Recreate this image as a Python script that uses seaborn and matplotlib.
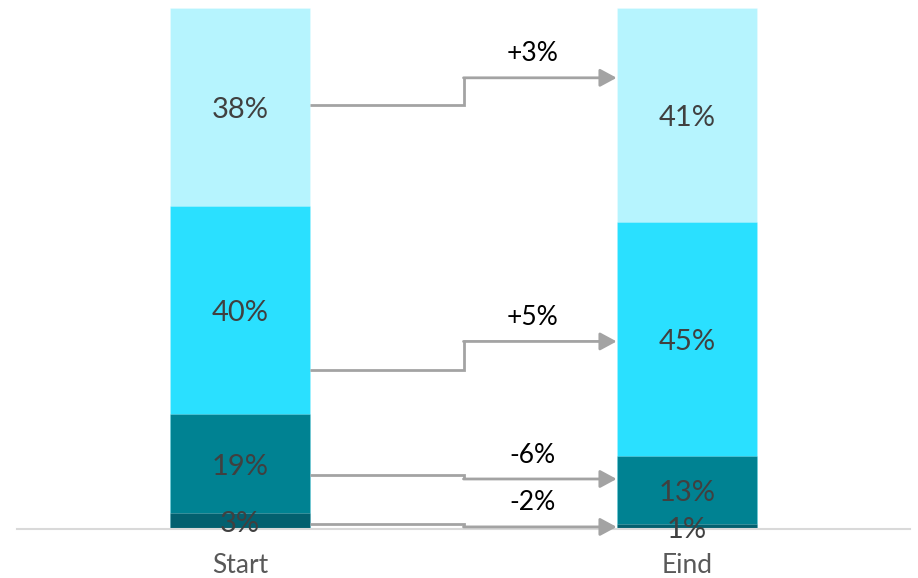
import numpy as np
import pandas as pd
import seaborn as sns
import matplotlib.pyplot as plt

# data
categories = ["Start", "Eind"]
seg_bottom = [3, 1]       # darkest
seg_low = [19, 13]
seg_mid = [40, 45]
seg_top = [38, 41]        # lightest
seg_colors = ["#03606f", "#008292", "#2ae0ff", "#b6f4fe"]

# change arrows: level (%) at the Start bar and at the Eind bar
arrow_from = [81.3, 30.6, 10.4, 1.0]
arrow_to = [86.6, 36.0, 9.6, 0.4]
change_labels = ["+3%", "+5%", "-6%", "-2%"]

sns.set_theme(style="white")
plt.rcParams["font.family"] = ["Lato", "DejaVu Sans"]

fig = plt.figure(figsize=(9.18, 5.78), dpi=100)
ax = fig.add_axes([17 / 918, 49 / 578, 893 / 918, 521 / 578])

segments = [seg_bottom, seg_low, seg_mid, seg_top]
cum = np.cumsum(np.array(segments), axis=0)
bar_w = 0.314

# overlay cumulative bars, tallest first
for layer in range(len(segments) - 1, -1, -1):
    df = pd.DataFrame({"cat": categories, "val": cum[layer]})
    sns.barplot(data=df, x="cat", y="val", color=seg_colors[layer],
                saturation=1, width=bar_w, ax=ax,
                edgecolor=(1, 1, 1, 0.25), linewidth=0.6)

# segment labels
for layer, seg in enumerate(segments):
    for i, v in enumerate(seg):
        base = cum[layer][i] - v
        ax.text(i, base + v / 2 - 0.6, f"{v}%", ha="center", va="center",
                fontsize=21, color="#404040")

# step arrows between the bars
x0 = 0 + bar_w / 2
x1 = 1 - bar_w / 2
xm = 0.5
for yf, yt, lab in zip(arrow_from, arrow_to, change_labels):
    ax.plot([x0, xm, xm], [yf, yf, yt], color="#a3a3a3", lw=2,
            solid_joinstyle="miter", solid_capstyle="butt")
    ax.annotate("", xy=(x1, yt), xytext=(xm, yt),
                arrowprops=dict(arrowstyle="-|>,head_length=0.5,head_width=0.27",
                                mutation_scale=20, color="#a3a3a3", lw=2,
                                shrinkA=0, shrinkB=0))
    ax.text(0.655, yt + 4.6, lab, ha="center", va="center",
            fontsize=19, color="black")

ax.set_xlim(-0.5, 1.5)
ax.set_ylim(0, 100)
ax.set_xlabel("")
ax.set_ylabel("")
ax.set_yticks([])
for s in ["top", "left", "right"]:
    ax.spines[s].set_visible(False)
ax.spines["bottom"].set_color("#d9d9d9")
ax.spines["bottom"].set_linewidth(1.5)
ax.tick_params(axis="x", length=0, pad=17, labelsize=19, labelcolor="#595959")

fig.savefig("out.png", dpi=100)
